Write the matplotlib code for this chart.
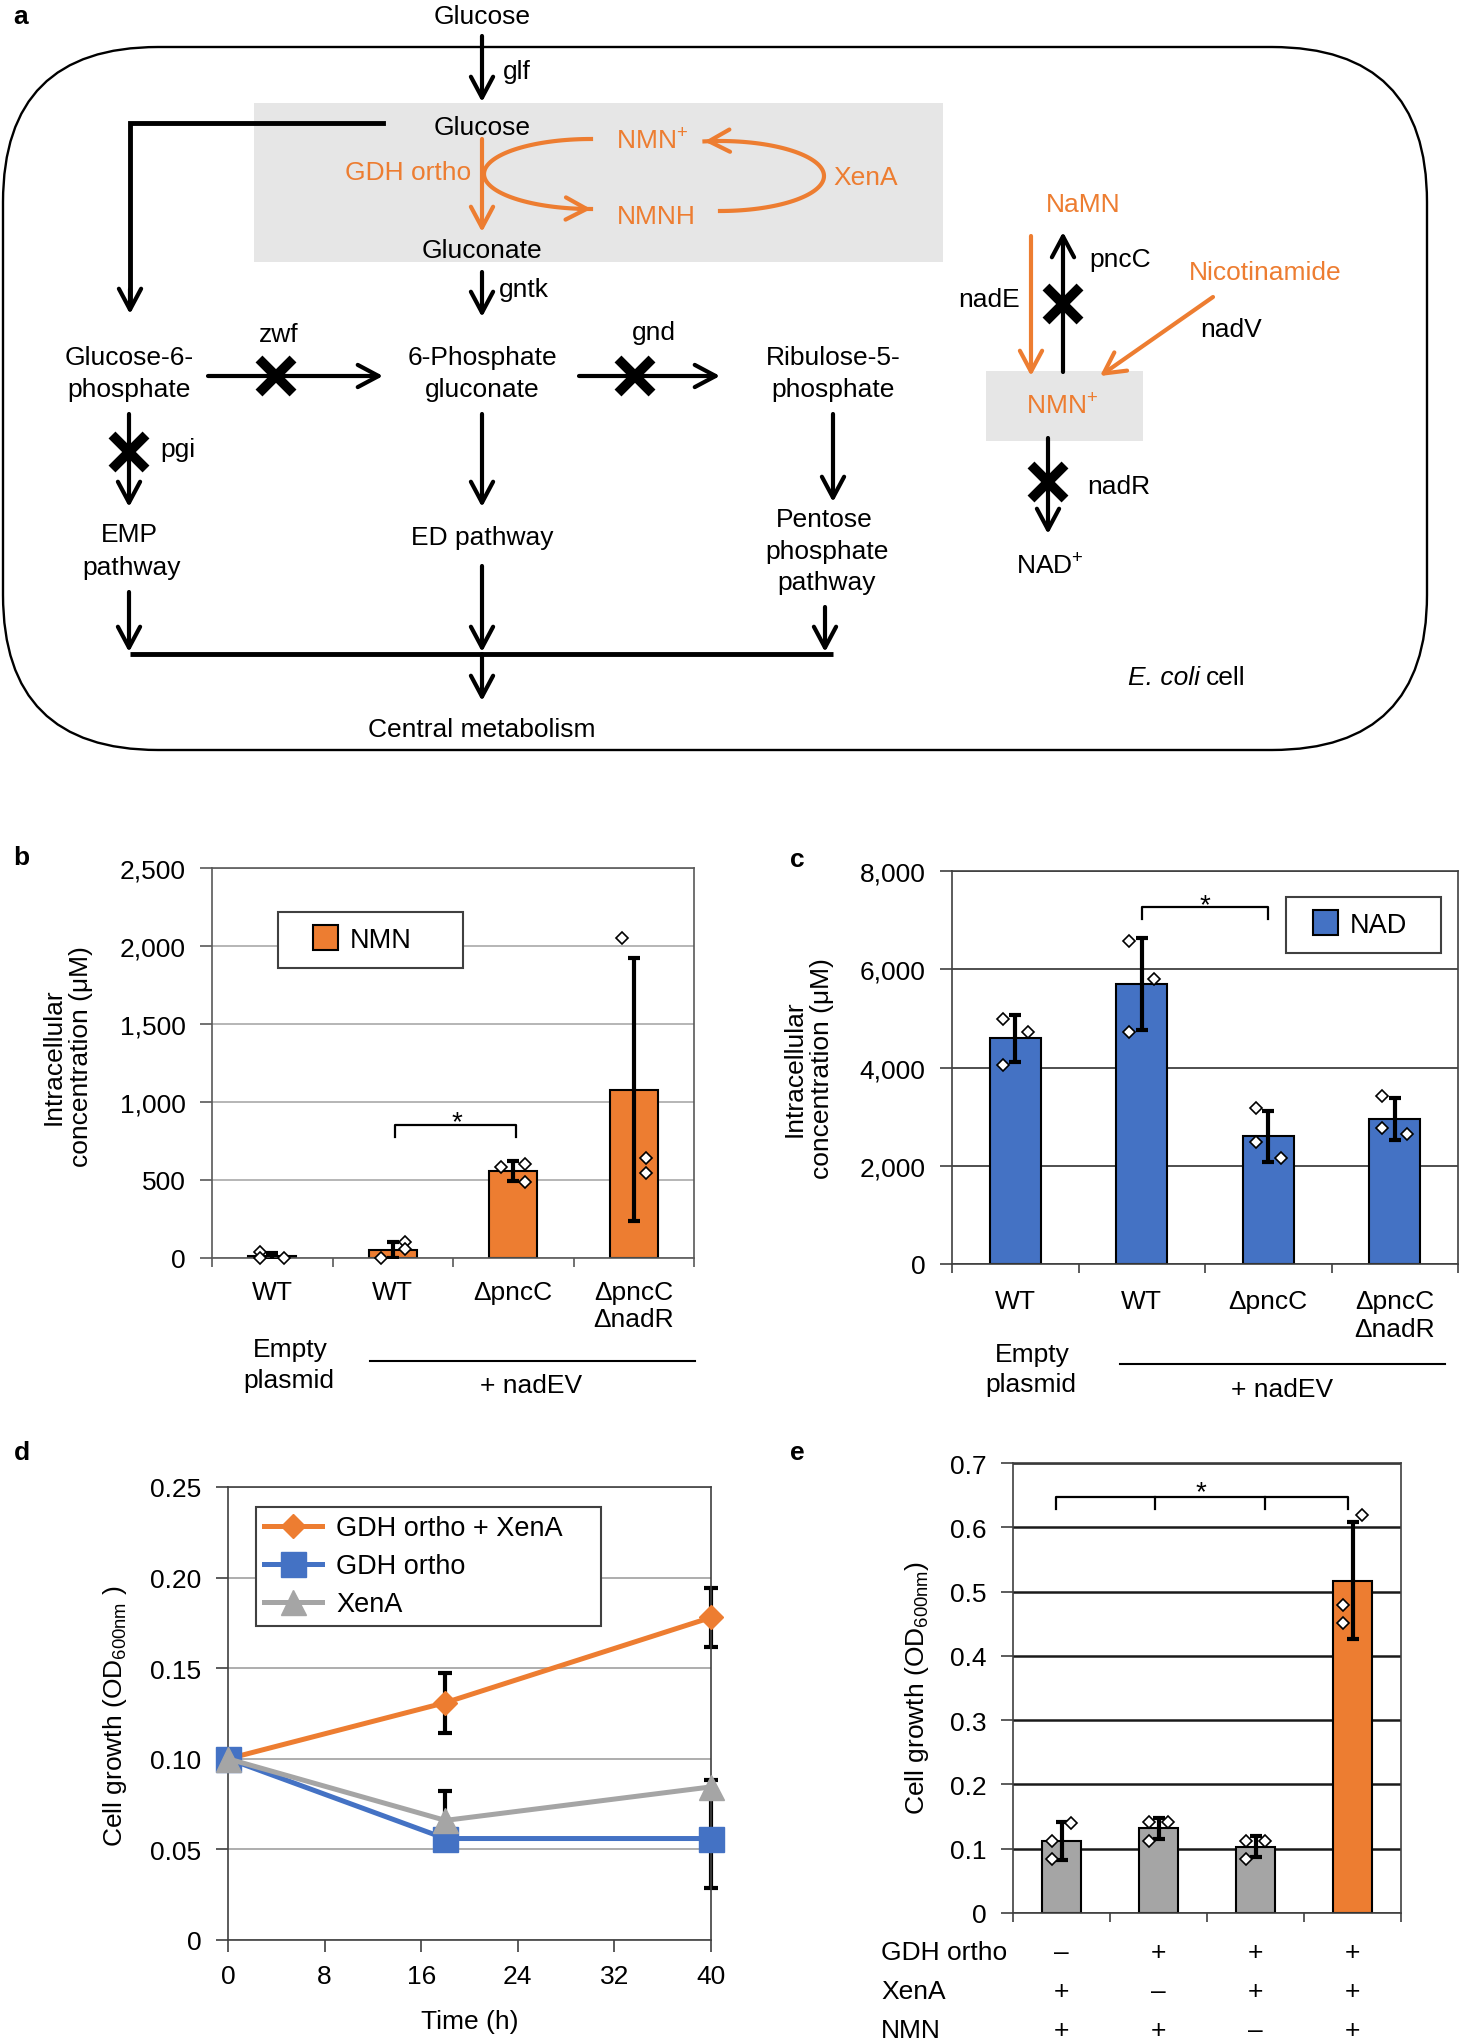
import numpy as np
import matplotlib
matplotlib.use('Agg')
import matplotlib.pyplot as plt
from matplotlib.patches import FancyBboxPatch, Rectangle
from matplotlib.lines import Line2D
from matplotlib.ticker import FuncFormatter
from matplotlib.transforms import blended_transform_factory

plt.rcParams['font.family'] = ['Liberation Sans', 'DejaVu Sans']
plt.rcParams['mathtext.fontset'] = 'custom'
plt.rcParams['mathtext.rm'] = 'Liberation Sans'
plt.rcParams['mathtext.it'] = 'Liberation Sans:italic'
plt.rcParams['mathtext.bf'] = 'Liberation Sans:bold'

ORANGE = '#ED7D31'
BLUE = '#4472C4'
GREY = '#A5A5A5'
BOXGREY = '#E6E6E6'
FS = 19

# ---- data: panel b (NMN) and c (NAD)
strains = ['WT', 'WT', 'ΔpncC', 'ΔpncC\nΔnadR']
nmn_mean = [12, 52, 557, 1079]
nmn_sd = [22, 50, 62, 845]
nmn_reps = [[40, 0, 0], [0, 100, 55], [586, 600, 484], [2051, 640, 547]]
nmn_side = [[-1, -1, 1], [-1, 1, 1], [-1, 1, 1], [-1, 1, 1]]
nad_mean = [4593, 5697, 2603, 2950]
nad_sd = [480, 930, 520, 430]
nad_reps = [[4990, 4730, 4060], [6570, 5800, 4720], [3170, 2480, 2160], [3430, 2770, 2650]]
nad_side = [[-1, 1, -1], [-1, 1, -1], [-1, -1, 1], [-1, -1, 1]]

# ---- data: panel d (growth curves)
time_h = [0, 18, 40]
od_gdh_xena = [0.100, 0.131, 0.178]
od_gdh_xena_sd = [0.0, 0.0165, 0.0165]
od_gdh = [0.100, 0.056, 0.056]
od_gdh_sd = [0.0, 0.0065, 0.0275]
od_xena = [0.100, 0.066, 0.0845]
od_xena_sd = [0.0, 0.016, 0.004]

# ---- data: panel e (growth bars)
cond_gdh = ['–', '+', '+', '+']
cond_xena = ['+', '–', '+', '+']
cond_nmn = ['+', '+', '–', '+']
growth_mean = [0.112, 0.132, 0.103, 0.517]
growth_sd = [0.029, 0.0165, 0.0165, 0.091]
growth_reps = [[0.1115, 0.084, 0.1405], [0.141, 0.141, 0.112], [0.112, 0.112, 0.084], [0.6196, 0.479, 0.451]]
growth_side = [[-1, -1, 1], [-1, 1, -1], [-1, 1, -1], [1, -1, -1]]
growth_colors = [GREY, GREY, GREY, ORANGE]

W, H = 1459, 2040
fig = plt.figure(figsize=(W / 100, H / 100), dpi=100)

# overlay axes in pixel coordinates for the diagram and free text
ov = fig.add_axes([0, 0, 1, 1])
ov.set_xlim(0, W)
ov.set_ylim(H, 0)
ov.axis('off')


def px_axes(l, t, r, b):
    return fig.add_axes([l / W, 1 - b / H, (r - l) / W, (b - t) / H])


def txt(x, y, s, color='k', size=FS, ha='center', **kw):
    ov.text(x, y, s, color=color, fontsize=size, ha=ha, va='center', zorder=5, **kw)


def arrow(tail, tip, color='k', lw=3.0):
    ov.annotate('', xy=tip, xytext=tail,
                arrowprops=dict(arrowstyle='->,head_length=1.5,head_width=0.8',
                                color=color, lw=lw, shrinkA=0, shrinkB=0), zorder=3)


def knock(x, y):
    ov.plot([x], [y], marker='x', ms=25, mew=7, color='k', zorder=4)


# ---------------- panel a
ov.add_patch(FancyBboxPatch((3, 48), 1424, 703, boxstyle='round,pad=0,rounding_size=155',
                            fc='none', ec='k', lw=1.7, zorder=1))
ov.add_patch(Rectangle((254, 104), 689, 159, fc=BOXGREY, ec='none', zorder=1))
ov.add_patch(Rectangle((986, 372), 157, 70, fc=BOXGREY, ec='none', zorder=1))

txt(482, 17, 'Glucose')
arrow((482, 37), (482, 103))
txt(503, 72, 'glf', ha='left')
txt(482, 128, 'Glucose')
ov.plot([383, 130, 130], [124, 124, 300], color='k', lw=3.5, solid_joinstyle='miter', zorder=3)
arrow((130, 290), (130, 315))
arrow((482, 140), (482, 233), color=ORANGE)
txt(408, 173, 'GDH ortho', color=ORANGE)

t = np.linspace(np.pi / 2, 3 * np.pi / 2, 80)
cx, cy = 591 + 107 * np.cos(t), 175 - 35 * np.sin(t)
ov.plot(cx, cy, color=ORANGE, lw=3, zorder=3)
arrow((cx[-4], cy[-4]), (cx[-1], cy[-1]), color=ORANGE)
t = np.linspace(-np.pi / 2, np.pi / 2 + 0.15, 80)
cx, cy = 720 + 104 * np.cos(t), 177 - 35 * np.sin(t)
ov.plot(cx, cy, color=ORANGE, lw=3, zorder=3)
arrow((cx[-4], cy[-4]), (cx[-1], cy[-1]), color=ORANGE)
txt(652, 142, r'NMN$^{\mathregular{+}}$', color=ORANGE)
txt(656, 217, 'NMNH', color=ORANGE)
txt(866, 178, 'XenA', color=ORANGE)
txt(482, 251, 'Gluconate')
arrow((482, 273), (482, 318))
txt(499, 290, 'gntk', ha='left')

txt(279, 335, 'zwf')
txt(654, 333, 'gnd')
txt(129, 358, 'Glucose-6-')
txt(129, 390, 'phosphate')
txt(482, 358, '6-Phosphate')
txt(482, 390, 'gluconate')
txt(833, 358, 'Ribulose-5-')
txt(833, 390, 'phosphate')
arrow((208, 377), (383, 377))
knock(276, 377)
arrow((579, 377), (720, 377))
knock(635, 377)

arrow((129, 415), (129, 508))
knock(129, 453)
txt(160, 450, 'pgi', ha='left')
arrow((482, 415), (482, 508))
arrow((833, 415), (833, 503))
txt(129, 535, 'EMP')
txt(132, 568, 'pathway')
txt(482, 538, 'ED pathway')
txt(824, 520, 'Pentose')
txt(827, 552, 'phosphate')
txt(827, 583, 'pathway')

arrow((129, 593), (129, 653))
arrow((482, 567), (482, 653))
arrow((825, 608), (825, 653))
ov.plot([130, 833], [655, 655], color='k', lw=3.5, solid_capstyle='butt', zorder=3)
arrow((482, 655), (482, 702))
txt(482, 730, 'Central metabolism')
txt(1128, 678, 'E. coli', ha='left', fontstyle='italic')
txt(1206, 678, 'cell', ha='left')

# NAD branch
txt(1083, 205, 'NaMN', color=ORANGE)
arrow((1031, 237), (1031, 377), color=ORANGE)
arrow((1063, 373), (1063, 233))
knock(1063, 305)
txt(1089, 260, 'pncC', ha='left')
txt(958, 300, 'nadE', ha='left')
txt(1265, 273, 'Nicotinamide', color=ORANGE)
arrow((1213, 298), (1100, 377), color=ORANGE)
txt(1200, 330, 'nadV', ha='left')
txt(1062, 407, r'NMN$^{\mathregular{+}}$', color=ORANGE)
arrow((1048, 439), (1048, 535))
knock(1048, 483)
txt(1087, 487, 'nadR', ha='left')
txt(1050, 567, r'NAD$^{\mathregular{+}}$')

# panel letters
for lx, ly, lab in [(13, 17, 'a'), (13, 858, 'b'), (790, 860, 'c'), (14, 1453, 'd'), (790, 1453, 'e')]:
    ov.text(lx, ly, lab, fontsize=FS, fontweight='bold', ha='left', va='center')

thousands = FuncFormatter(lambda v, _: f'{v:,.0f}')
plain = FuncFormatter(lambda v, _: '0' if v == 0 else f'{v:g}')


def style_axes(ax, ymax, step, grid_color, frame_color, fmt, grid_lw=1.3):
    ax.set_ylim(0, ymax)
    ax.set_yticks(np.arange(0, ymax + step / 2, step))
    ax.yaxis.set_major_formatter(fmt)
    ax.grid(axis='y', color=grid_color, lw=grid_lw)
    ax.grid(axis='x', visible=False)
    ax.set_axisbelow(True)
    for s in ax.spines.values():
        s.set_color(frame_color)
        s.set_linewidth(1.2)
    ax.tick_params(axis='y', direction='out', length=8.6, width=1.2, color=frame_color,
                   pad=10.5, labelsize=FS)


def bar_panel(ax, means, sds, reps, sides, colors, width):
    xs = np.arange(len(means))
    ax.bar(xs, means, width=width, color=colors, edgecolor='k', linewidth=1.5, zorder=2)
    ax.errorbar(xs, means, yerr=sds, fmt='none', ecolor='k', elinewidth=3,
                capsize=4.3, capthick=3, zorder=3)
    for i, (r, s) in enumerate(zip(reps, sides)):
        ax.plot(i + 0.1 * np.array(s), r, 'D', ms=6.2, mfc='white', mec='k', mew=1.2,
                zorder=4, clip_on=False)
    ax.set_xlim(-0.5, len(means) - 0.5)
    ax.set_xticks(np.arange(-0.5, len(means), 1), minor=True)
    ax.tick_params(axis='x', which='minor', direction='out', length=6.5, width=1.2,
                   color=ax.spines['left'].get_edgecolor())


def bracket(ax, xs, y_top, y_leg, star_x, star_y):
    ax.plot([xs[0], xs[0], xs[-1], xs[-1]], [y_leg, y_top, y_top, y_leg], color='k', lw=1.6, zorder=5)
    for xm in xs[1:-1]:
        ax.plot([xm, xm], [y_top, y_leg], color='k', lw=1.6, zorder=5)
    ax.text(star_x, star_y, '*', ha='center', va='baseline', fontsize=FS + 1, zorder=5)


def square_legend(ax, label, color, anchor, hl, htp):
    h = Line2D([], [], ls='none', marker='s', ms=18, mfc=color, mec='k', mew=1.5)
    leg = ax.legend([h], [label], loc='upper left', bbox_to_anchor=anchor, mode='expand',
                    borderaxespad=0, borderpad=0.55, handlelength=hl, handletextpad=htp,
                    fontsize=FS + 0.5, frameon=True, fancybox=False, edgecolor='#404040',
                    framealpha=1)
    leg.get_frame().set_linewidth(1.5)


# ---------------- panel b
axb = px_axes(212, 869, 694, 1259)
style_axes(axb, 2500, 500, '#b0b0b0', '#595959', thousands)
bar_panel(axb, nmn_mean, nmn_sd, nmn_reps, nmn_side, ORANGE, 0.4)
axb.set_xticks(np.arange(4))
axb.set_xticklabels(strains)
axb.tick_params(axis='x', which='major', length=0, labelsize=FS, pad=15.5)
axb.set_ylabel('Intracellular\nconcentration (μM)', fontsize=FS, va='center', multialignment='center')
axb.yaxis.set_label_coords(-0.30, 0.518)
bracket(axb, [1.02, 2.02], 853, 776, 1.53, 827)
square_legend(axb, 'NMN', ORANGE, (0.137, 0.887, 0.384, 0), 2.4, -0.3)
txt(290, 1350, 'Empty')
txt(289, 1381, 'plasmid')
ov.plot([370, 695], [1362, 1362], color='k', lw=1.5)
txt(531, 1386, '+ nadEV')

# ---------------- panel c
axc = px_axes(952, 872, 1458, 1265)
style_axes(axc, 8000, 2000, '#404040', '#404040', thousands)
bar_panel(axc, nad_mean, nad_sd, nad_reps, nad_side, BLUE, 0.4)
axc.set_xticks(np.arange(4))
axc.set_xticklabels(strains)
axc.tick_params(axis='x', which='major', length=0, labelsize=FS, pad=18)
axc.set_ylabel('Intracellular\nconcentration (μM)', fontsize=FS, va='center', multialignment='center')
axc.yaxis.set_label_coords(-0.284, 0.499)
bracket(axc, [1.0, 2.0], 7267, 7023, 1.5, 7165)
square_legend(axc, 'NAD', BLUE, (0.660, 0.934, 0.306, 0), 1.75, 0.05)
txt(1032, 1355, 'Empty')
txt(1031, 1385, 'plasmid')
ov.plot([1120, 1445], [1365, 1365], color='k', lw=1.5)
txt(1282, 1390, '+ nadEV')

# ---------------- panel d
axd = px_axes(228, 1488, 711, 1941)
style_axes(axd, 0.25, 0.05, '#a0a0a0', '#404040',
           FuncFormatter(lambda v, _: '0' if v == 0 else f'{v:.2f}'), grid_lw=1.2)
axd.set_xlim(0, 40)
axd.set_xticks(np.arange(0, 41, 8))
axd.tick_params(axis='x', direction='out', length=8.6, width=1.2, color='#404040', pad=9.0, labelsize=FS)
series = [
    (od_gdh_xena, od_gdh_xena_sd, ORANGE, 'D', 12.3, 'GDH ortho + XenA'),
    (od_gdh, od_gdh_sd, BLUE, 's', 18, 'GDH ortho'),
    (od_xena, od_xena_sd, GREY, '^', 18, 'XenA'),
]
for vals, sd, col, mk, ms, lab in series:
    axd.errorbar(time_h, vals, yerr=sd, fmt='none', ecolor='k', elinewidth=3,
                 capsize=4.7, capthick=3, zorder=2, clip_on=False)
for vals, sd, col, mk, ms, lab in series:
    axd.plot(time_h, vals, color=col, lw=3.6, marker=mk, ms=ms, mfc=col, mec=col,
             label=lab, zorder=3, clip_on=False)
leg = axd.legend(loc='upper left', bbox_to_anchor=(0.058, 0.956, 0.714, 0), mode='expand',
                 borderaxespad=0, borderpad=0.3, labelspacing=0.45, handlelength=2.15,
                 handletextpad=0.5, fontsize=FS + 0.5, frameon=True, fancybox=False,
                 edgecolor='#404040', framealpha=1)
leg.get_frame().set_linewidth(1.5)
axd.set_ylabel(r'Cell growth (OD$_{\mathregular{600nm}}$ )', fontsize=FS, va='center')
axd.yaxis.set_label_coords(-0.234, 0.497)
axd.set_xlabel('Time (h)', fontsize=FS, va='center')
axd.xaxis.set_label_coords(0.501, -0.179)

# ---------------- panel e
axe = px_axes(1013, 1464, 1401, 1914)
style_axes(axe, 0.7, 0.1, '#1a1a1a', '#404040', plain, grid_lw=1.8)
bar_panel(axe, growth_mean, growth_sd, growth_reps, growth_side, growth_colors, 0.41)
axe.set_xticks([])
axe.set_ylabel(r'Cell growth (OD$_{\mathregular{600nm}}$)', fontsize=FS, va='center')
axe.yaxis.set_label_coords(-0.247, 0.502)
bracket(axe, [-0.06, 0.96, 2.1, 2.95], 0.647, 0.628, 1.44, 0.644)

tr = blended_transform_factory(axe.transData, ov.transData)
for name, signs, y in [('GDH ortho', cond_gdh, 1953), ('XenA', cond_xena, 1992), ('NMN', cond_nmn, 2031)]:
    txt(881, y, name, ha='left')
    for i, s in enumerate(signs):
        axe.text(i, y, s, transform=tr, ha='center', va='center', fontsize=FS, clip_on=False)

fig.savefig('out.png', dpi=100)
